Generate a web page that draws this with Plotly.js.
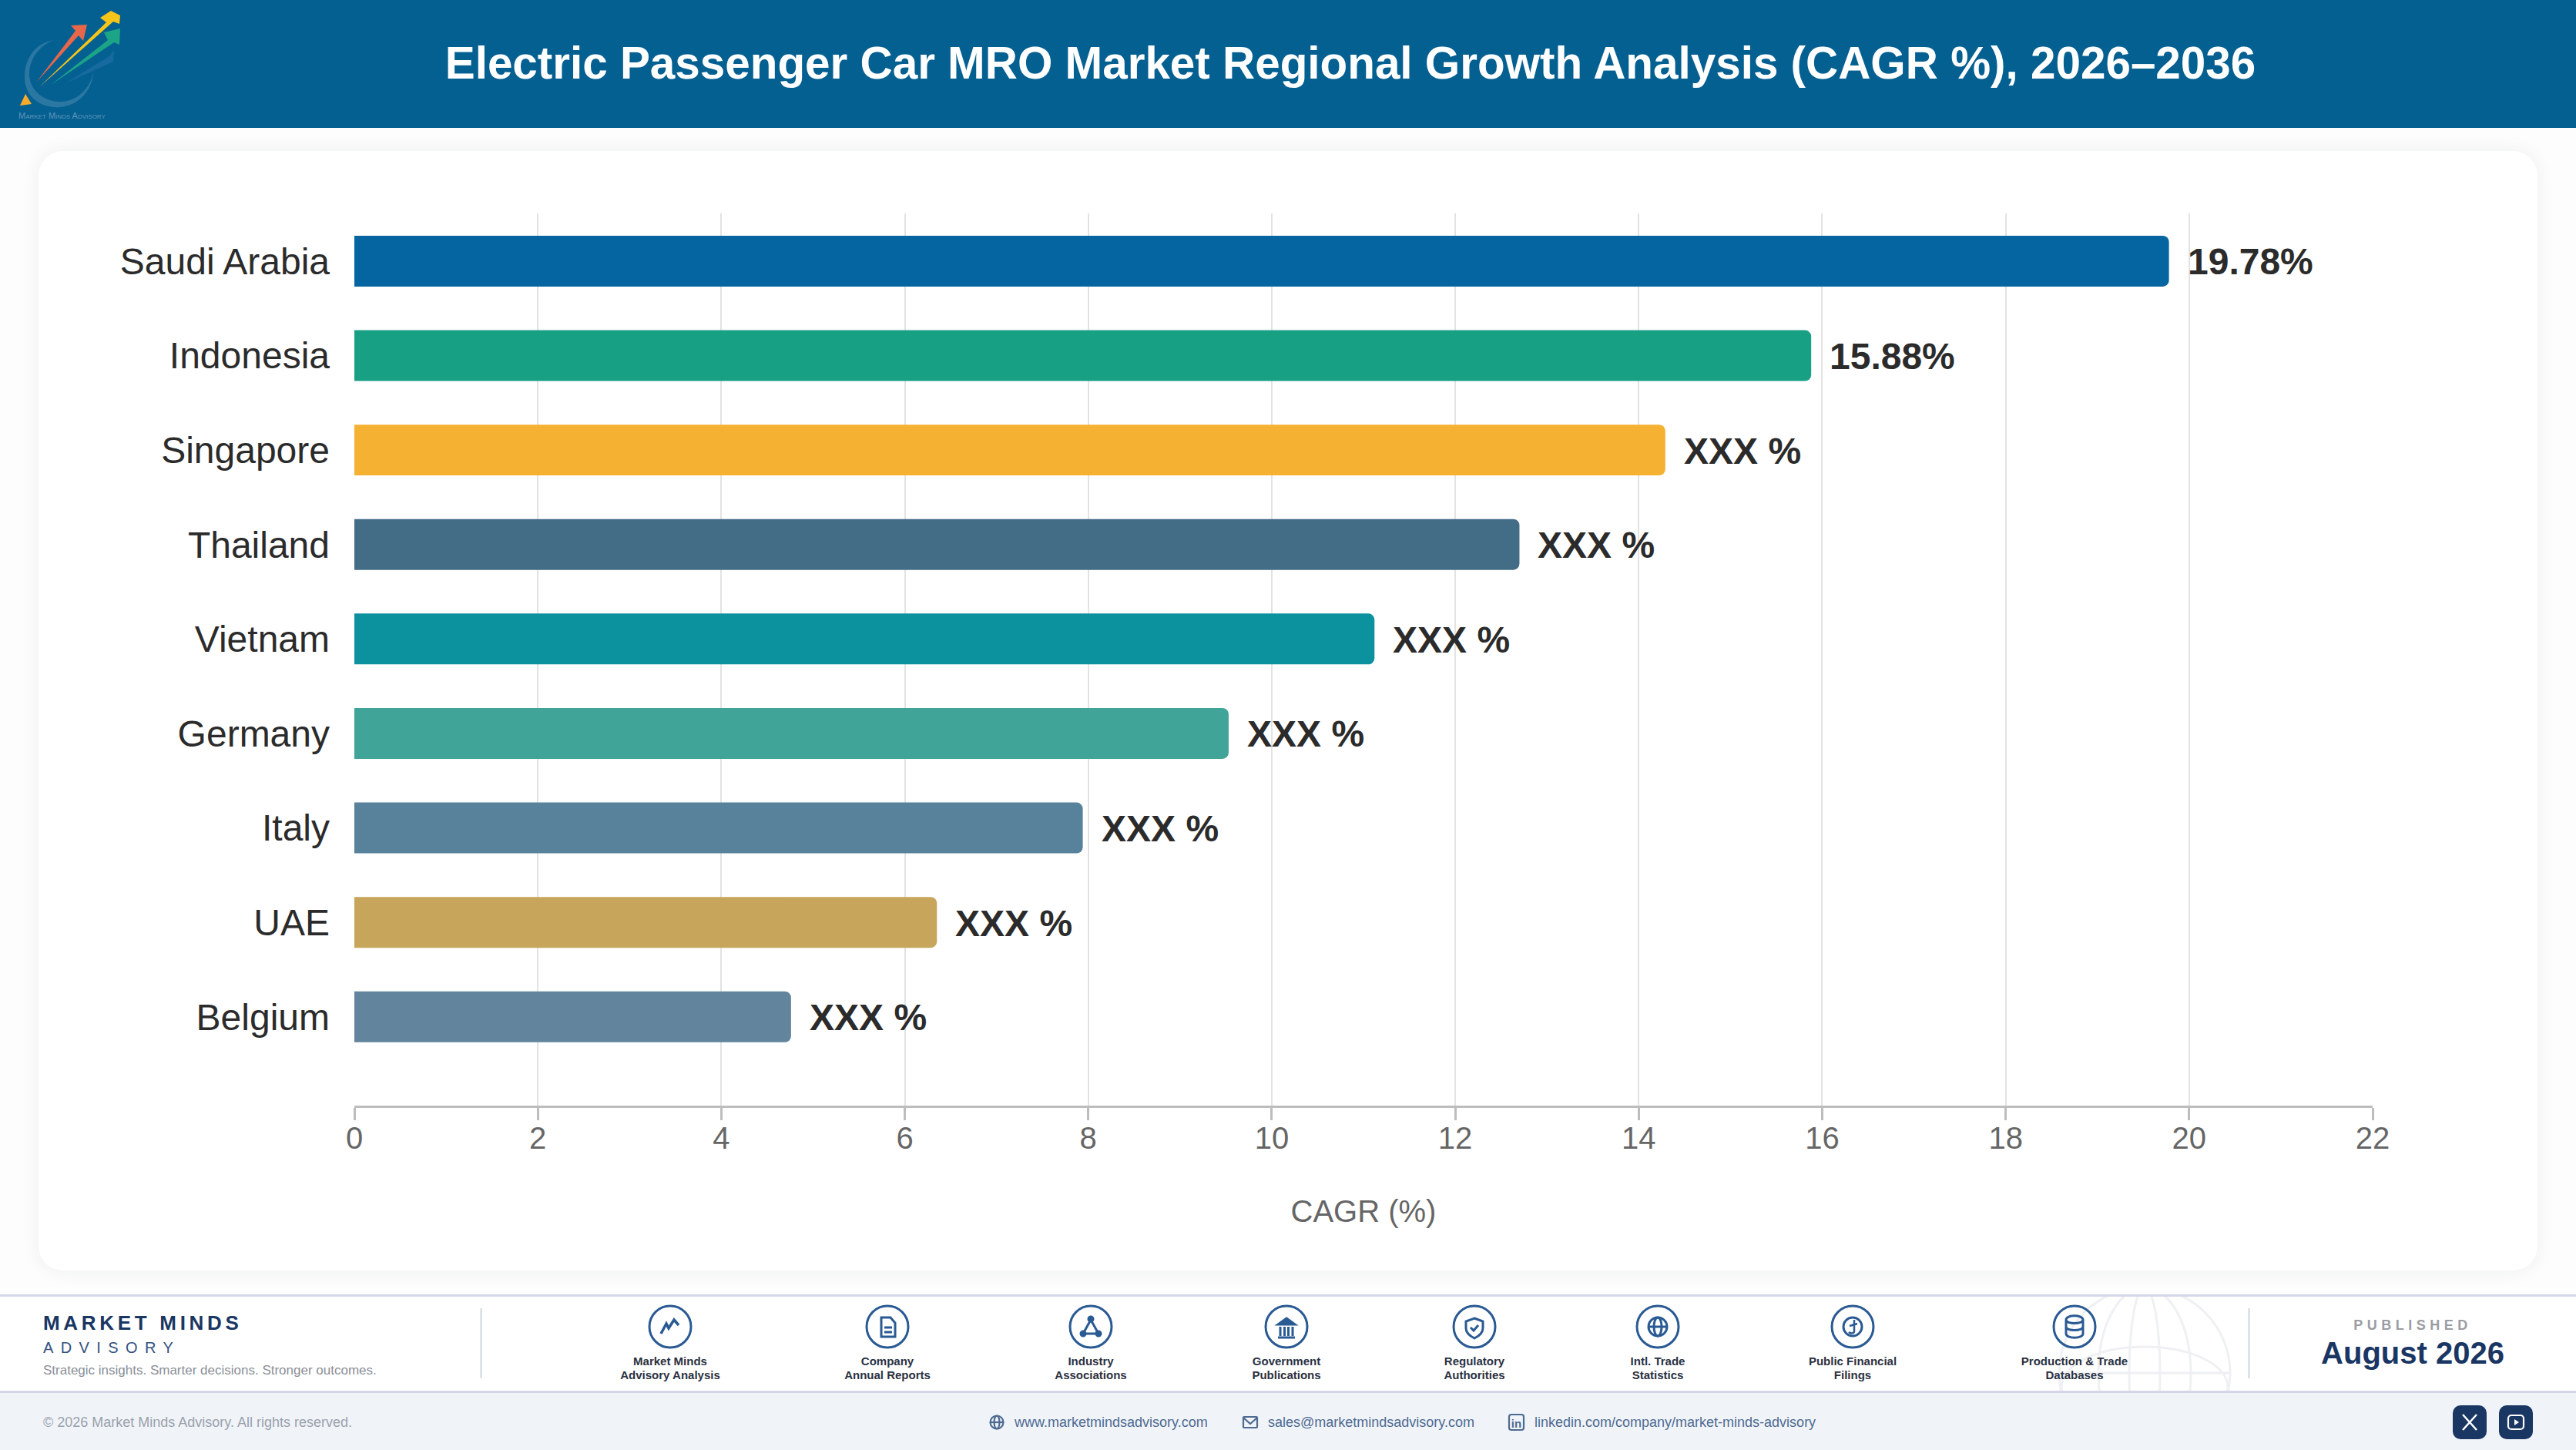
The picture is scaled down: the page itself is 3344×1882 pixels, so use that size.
<!DOCTYPE html>
<html><head><meta charset="utf-8">
<script src="https://cdn.plot.ly/plotly-3.0.1.min.js"></script>
<style>
html,body{margin:0;padding:0;width:3344px;height:1882px;overflow:hidden;background:#fdfdfd;font-family:"Liberation Sans",Arial,sans-serif}
.abs{position:absolute}
#header{left:0;top:0;width:3344px;height:166px;background:#056092}
#card{left:50px;top:196px;width:3244px;height:1453px;background:#fff;border-radius:32px;box-shadow:0 0 24px rgba(30,40,60,.07)}
#strip{left:0;top:1680px;width:3344px;height:128px;background:#fff;border-top:3px solid #d5d7e6;border-bottom:3px solid #d5d7e6;box-sizing:border-box}
#bottom{left:0;top:1808px;width:3344px;height:74px;background:#f0f4f9}
#chart{left:0;top:0;width:3344px;height:1882px}
.t{position:absolute;white-space:nowrap;line-height:1}
.c{transform:translateX(-50%);text-align:center}
.src{position:absolute;top:1758px;transform:translateX(-50%);text-align:center;font-size:15px;line-height:18px;font-weight:700;color:#2a3142;white-space:nowrap}
.btn{position:absolute;top:1824px;width:44px;height:44px;border-radius:10px;background:#1a3663}
</style></head><body>
<div id="header" class="abs"></div>
<div id="card" class="abs"></div>
<div id="strip" class="abs"></div>
<div id="bottom" class="abs"></div>
<svg class="abs" style="left:0;top:0" width="3344" height="1882" viewBox="0 0 3344 1882" fill="none">
 <defs><clipPath id="sc"><rect x="0" y="1683" width="3344" height="122"/></clipPath></defs>
 <g clip-path="url(#sc)" stroke="#eef0f3" stroke-width="3">
  <circle cx="2784" cy="1782" r="111"/><ellipse cx="2784" cy="1782" rx="60" ry="111"/><ellipse cx="2784" cy="1782" rx="20" ry="111"/>
  <path d="M2673 1782H2895"/><ellipse cx="2784" cy="1800" rx="108" ry="52"/>
 </g>
 <!-- logo -->
 <path d="M70 52C44 56 32 78 32 100C32 128 56 141 78 139C104 137 122 114 121 90C121 108 104 132 78 132C58 132 38 118 38 96C38 76 52 58 72 51Z" fill="#3f86ab" opacity=".65"/>
 <path d="M47 107L98 40L92 33L113 32L108 53L102 46Z" fill="#e8674a"/>
 <path d="M51 113L138 29L130 23L144 14L156 20L155 31L147 28Z" fill="#f6c519"/>
 <path d="M66 110L140 52L135 42L156 37L155 58L148 55Z" fill="#1ca487"/>
 <path d="M85 108L142 73L148 65L147 80Z" fill="#1f6fa6" opacity=".7"/>
 <path d="M33 122L41 135L26 137Z" fill="#f6ab2a"/>
 <!-- dividers -->
 <path d="M624.5 1698V1789M2919.5 1698V1789" stroke="#cfd6dd" stroke-width="2"/>
 <!-- source icons -->
 <g stroke="#2a5a93" stroke-width="3" fill="none">
  <circle cx="870" cy="1722" r="27"/><circle cx="1152" cy="1722" r="27"/><circle cx="1416" cy="1722" r="27"/><circle cx="1670" cy="1722" r="27"/>
  <circle cx="1914" cy="1722" r="27"/><circle cx="2152" cy="1722" r="27"/><circle cx="2405" cy="1722" r="27"/><circle cx="2693" cy="1722" r="27"/>
  <path d="M858 1731L865 1718L868 1724L875 1713L881 1720" stroke-width="3.5"/>
  <path d="M1144 1710H1156L1162 1717V1735H1144ZM1148 1723H1158M1148 1729H1158" />
  <path d="M1416 1713L1406 1731H1426ZM1416 1713V1713" stroke-width="3"/><circle cx="1416" cy="1712" r="3" fill="#2a5a93"/><circle cx="1406" cy="1731" r="3" fill="#2a5a93"/><circle cx="1426" cy="1731" r="3" fill="#2a5a93"/>
  <path d="M1670 1711L1681 1719H1659Z" fill="#2a5a93"/><path d="M1662 1722V1734M1667.5 1722V1734M1672.5 1722V1734M1678 1722V1734M1659 1736H1681"/>
  <path d="M1914 1711L1925 1715V1724C1925 1730 1920 1734 1914 1737C1908 1734 1903 1730 1903 1724V1715ZM1909 1723L1913 1727L1919 1720"/>
  <circle cx="2152" cy="1722" r="12"/><ellipse cx="2152" cy="1722" rx="5" ry="12"/><path d="M2140 1722H2164"/>
  <circle cx="2405" cy="1722" r="12"/><path d="M2407 1713V1728C2407 1731 2402 1731 2400 1729M2401 1721L2411 1718" stroke-width="2.5"/>
  <path d="M2682 1713C2682 1706 2704 1706 2704 1713V1731C2704 1738 2682 1738 2682 1731ZM2682 1713C2682 1719 2704 1719 2704 1713M2682 1722C2682 1728 2704 1728 2704 1722"/>
 </g>
 <!-- contact icons -->
 <g stroke="#4e6a90" stroke-width="2.2" fill="none">
  <circle cx="1294" cy="1846" r="8.5"/><ellipse cx="1294" cy="1846" rx="3.5" ry="8.5"/><path d="M1285.5 1846H1302.5"/>
  <rect x="1614" y="1839" width="18" height="14" rx="1"/><path d="M1614 1840L1623 1848L1632 1840"/>
  <rect x="1959" y="1836" width="19" height="20" rx="3"/>
 </g>
</svg>
<!-- footer text -->
<div class="t" style="left:56px;top:1704px;font-size:26px;font-weight:700;letter-spacing:4.7px;color:#1a3663">MARKET MINDS</div>
<div class="t" style="left:56px;top:1739px;font-size:20px;letter-spacing:9.4px;color:#34527f">ADVISORY</div>
<div class="t" style="left:56px;top:1770px;font-size:17px;color:#8b8f98">Strategic insights. Smarter decisions. Stronger outcomes.</div>
<div class="src" style="left:870px">Market Minds<br>Advisory Analysis</div>
<div class="src" style="left:1152px">Company<br>Annual Reports</div>
<div class="src" style="left:1416px">Industry<br>Associations</div>
<div class="src" style="left:1670px">Government<br>Publications</div>
<div class="src" style="left:1914px">Regulatory<br>Authorities</div>
<div class="src" style="left:2152px">Intl. Trade<br>Statistics</div>
<div class="src" style="left:2405px">Public Financial<br>Filings</div>
<div class="src" style="left:2693px">Production &amp; Trade<br>Databases</div>
<div class="t c" style="left:3132px;top:1711px;font-size:18px;font-weight:700;letter-spacing:5.5px;color:#9a9da3">PUBLISHED</div>
<div class="t c" style="left:3132px;top:1736px;font-size:40px;font-weight:700;color:#1a3663">August 2026</div>
<div class="t" style="left:56px;top:1837px;font-size:18px;color:#9aa1ab">© 2026 Market Minds Advisory. All rights reserved.</div>
<div class="t" style="left:1317px;top:1837px;font-size:18px;color:#4e6a90">www.marketmindsadvisory.com</div>
<div class="t" style="left:1646px;top:1837px;font-size:18px;color:#4e6a90">sales@marketmindsadvisory.com</div>
<div class="t" style="left:1992px;top:1837px;font-size:18px;color:#4e6a90">linkedin.com/company/market-minds-advisory</div>
<div class="t c" style="left:1968.5px;top:1840px;font-size:15px;font-weight:700;color:#4e6a90">in</div>
<div class="t" style="left:24px;top:145px;font-size:11px;font-variant:small-caps;color:#5f95b8">Market Minds Advisory</div>
<div id="chart" class="abs"></div>
<div class="btn" style="left:3184px"><svg width="44" height="44" fill="none" stroke="#fff" stroke-width="2.5"><path d="M13 12L31 32M31 12L13 32"/></svg></div>
<div class="btn" style="left:3244px"><svg width="44" height="44" fill="none" stroke="#fff" stroke-width="2.2"><rect x="12" y="13" width="20" height="18" rx="4"/><path d="M20 18L26 22L20 26Z" fill="#fff" stroke="none"/></svg></div>
<script>
const categories = ["Saudi Arabia","Indonesia","Singapore","Thailand","Vietnam","Germany","Italy","UAE","Belgium"];
const cagrValues = [19.78,15.88,14.29,12.70,11.12,9.53,7.94,6.35,4.76];
const valueLabels = ["19.78%","15.88%","XXX %","XXX %","XXX %","XXX %","XXX %","XXX %","XXX %"];
const barColors = ["#0565A0","#18A085","#F5B131","#436C87","#0C919E","#40A498","#58819B","#C7A55B","#62849C"];
const xTicks = [0,2,4,6,8,10,12,14,16,18,20,22];
const titleText = "Electric Passenger Car MRO Market Regional Growth Analysis (CAGR %), 2026–2036";
const axisTitle = "CAGR (%)";
const FONT = '"Liberation Sans", Arial, sans-serif';

const trace = {
  type:"bar", orientation:"h", x:cagrValues, y:categories,
  width:0.538, marker:{color:barColors, line:{width:0}},
  cliponaxis:false, hoverinfo:"skip"
};
const layout = {
  width:3344, height:1882, paper_bgcolor:"rgba(0,0,0,0)", plot_bgcolor:"rgba(0,0,0,0)",
  margin:{l:460,r:264,t:277,b:447,pad:0}, showlegend:false, barcornerradius:8,
  font:{family:FONT},
  title:{text:"<b>"+titleText+"</b>", font:{family:FONT,size:58.4,color:"#ffffff"}, x:1753/3344, xanchor:"center", xref:"container", y:1-82/1882, yanchor:"middle", yref:"container"},
  xaxis:{range:[0,22], tickmode:"array", tickvals:xTicks, ticktext:xTicks.map(String), showgrid:true, gridcolor:"#e3e3e3", gridwidth:2,
    zeroline:false, showline:true, linecolor:"#bdbdbd", linewidth:3, ticks:"outside", ticklen:16, tickwidth:3, tickcolor:"#bdbdbd", ticklabelstandoff:-11,
    tickfont:{family:FONT,size:40,color:"#666666"}, title:{text:axisTitle,font:{family:FONT,size:40,color:"#666666"},standoff:60}},
  yaxis:{type:"category", categoryorder:"array", categoryarray:categories, range:[8.94,-0.505], showgrid:false, zeroline:false, showline:false,
    ticks:"", ticklabelstandoff:31, tickfont:{family:FONT,size:48,color:"#2b2b2b"}},
  annotations:categories.map((c,i)=>({x:cagrValues[i], y:c, xref:"x", yref:"y", text:"<b>"+valueLabels[i]+"</b>", showarrow:false, xanchor:"left", yanchor:"middle", xshift:22, yshift:-1, font:{family:FONT,size:48,color:"#2b2b2b"}}))
};
Plotly.newPlot("chart",[trace],layout,{displayModeBar:false,staticPlot:true});
</script>
</body></html>
